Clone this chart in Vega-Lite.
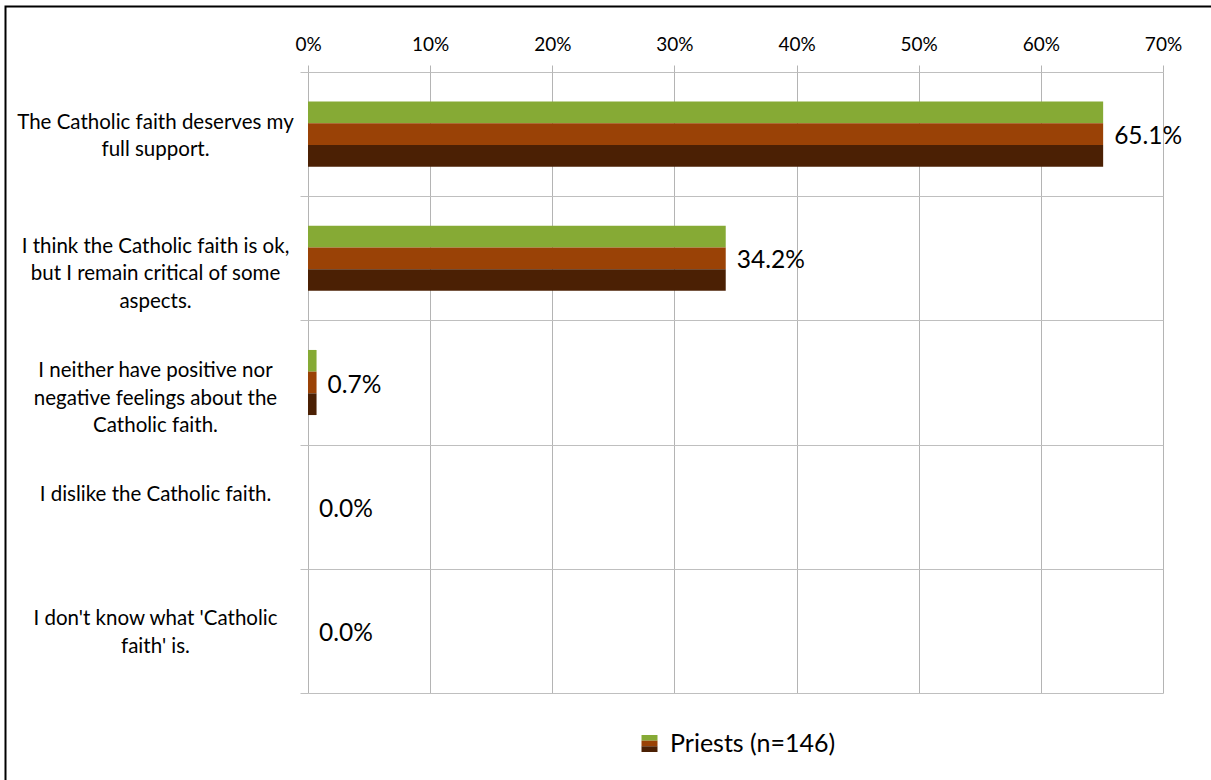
{
  "$schema": "https://vega.github.io/schema/vega-lite/v6.json",
  "width": 855,
  "height": 621,
  "autosize": {"type": "none"},
  "padding": {"left": 308, "top": 72, "right": 48, "bottom": 87},
  "background": "white",
  "config": {"view": {"stroke": null}, "font": "Lato"},
  "data": {
    "values": [
      {"answer": "The Catholic faith deserves my\nfull support.", "share": 0.651, "group": "Priests (n=146)"},
      {"answer": "I think the Catholic faith is ok,\nbut I remain critical of some\naspects.", "share": 0.342, "group": "Priests (n=146)"},
      {"answer": "I neither have positive nor\nnegative feelings about the\nCatholic faith.", "share": 0.007, "group": "Priests (n=146)"},
      {"answer": "I dislike the Catholic faith.", "share": 0.0, "group": "Priests (n=146)"},
      {"answer": "I don't know what 'Catholic\nfaith' is.", "share": 0.0, "group": "Priests (n=146)"}
    ]
  },
  "resolve": {"scale": {"color": "independent"}, "legend": {"color": "independent"}},
  "layer": [
    {
      "description": "chart frame",
      "data": {"values": [{}]},
      "mark": {"type": "rect", "fill": "transparent", "stroke": "#000000", "strokeWidth": 2},
      "encoding": {
        "x": {"value": -302.5},
        "x2": {"value": 1000},
        "y": {"value": -65.5},
        "y2": {"value": 800}
      }
    },
    {
      "description": "top stripe of each bar",
      "mark": {"type": "bar", "size": 21.7, "yOffset": -21.7},
      "encoding": {
        "y": {
          "field": "answer",
          "type": "nominal",
          "sort": null,
          "scale": {"paddingInner": 0, "paddingOuter": 0},
          "axis": {
            "title": null,
            "orient": "left",
            "tickBand": "extent",
            "grid": true,
            "gridColor": "#bfbfbf",
            "tickColor": "#bfbfbf",
            "tickSize": 8,
            "domain": false,
            "labelFont": "Lato",
            "labelFontSize": 20.5,
            "labelLineHeight": 27.5,
            "labelColor": "#000000",
            "labelAlign": "center",
            "labelBaseline": "middle",
            "labelLimit": 400,
            "labelPadding": 145,
            "labelOffset": -12,
            "labelExpr": "split(datum.label, '\\n')"
          }
        },
        "x": {
          "field": "share",
          "type": "quantitative",
          "scale": {"domain": [0, 0.7], "nice": false},
          "axis": {
            "title": null,
            "orient": "top",
            "values": [0, 0.1, 0.2, 0.3, 0.4, 0.5, 0.6, 0.7],
            "format": ".0%",
            "grid": true,
            "gridColor": "#b4b4b4",
            "tickColor": "#b4b4b4",
            "tickSize": 7,
            "domain": false,
            "labelFont": "Lato",
            "labelFontSize": 19,
            "labelColor": "#000000",
            "labelBaseline": "alphabetic",
            "labelPadding": 15,
            "labelFlush": false
          }
        },
        "color": {
          "field": "group",
          "type": "nominal",
          "scale": {"range": ["#86aa35"]},
          "legend": {
            "title": null, "orient": "none", "legendX": 329, "legendY": 659, "padding": 0,
            "symbolType": "M-1,-1.06H1V-0.35H-1Z", "symbolSize": 256, "symbolStrokeWidth": 0,
            "labelFont": "Lato", "labelFontSize": 25, "labelOffset": 8, "labelLimit": 400,
            "labelColor": "#000000", "labelOpacity": 0
          }
        }
      }
    },
    {
      "description": "middle stripe of each bar",
      "mark": {"type": "bar", "size": 21.7, "yOffset": 0},
      "encoding": {
        "y": {"field": "answer", "type": "nominal", "sort": null},
        "x": {"field": "share", "type": "quantitative"},
        "color": {
          "field": "group",
          "type": "nominal",
          "scale": {"range": ["#9a4206"]},
          "legend": {
            "title": null, "orient": "none", "legendX": 329, "legendY": 659, "padding": 0,
            "symbolType": "M-1,-0.35H1V0.36H-1Z", "symbolSize": 256, "symbolStrokeWidth": 0,
            "labelFont": "Lato", "labelFontSize": 25, "labelOffset": 8, "labelLimit": 400,
            "labelColor": "#000000"
          }
        }
      }
    },
    {
      "description": "bottom stripe of each bar",
      "mark": {"type": "bar", "size": 21.7, "yOffset": 21.7},
      "encoding": {
        "y": {"field": "answer", "type": "nominal", "sort": null},
        "x": {"field": "share", "type": "quantitative"},
        "color": {
          "field": "group",
          "type": "nominal",
          "scale": {"range": ["#4b2004"]},
          "legend": {
            "title": null, "orient": "none", "legendX": 329, "legendY": 659, "padding": 0,
            "symbolType": "M-1,0.35H1V1.06H-1Z", "symbolSize": 256, "symbolStrokeWidth": 0,
            "labelFont": "Lato", "labelFontSize": 25, "labelOffset": 8, "labelLimit": 400,
            "labelColor": "#000000", "labelOpacity": 0
          }
        }
      }
    },
    {
      "description": "value labels",
      "mark": {"type": "text", "align": "left", "baseline": "middle", "dx": 11, "dy": 3, "fontSize": 24.5, "font": "Lato", "color": "#000000"},
      "encoding": {
        "y": {"field": "answer", "type": "nominal", "sort": null},
        "x": {"field": "share", "type": "quantitative"},
        "text": {"field": "share", "type": "quantitative", "format": ".1%"}
      }
    }
  ]
}
